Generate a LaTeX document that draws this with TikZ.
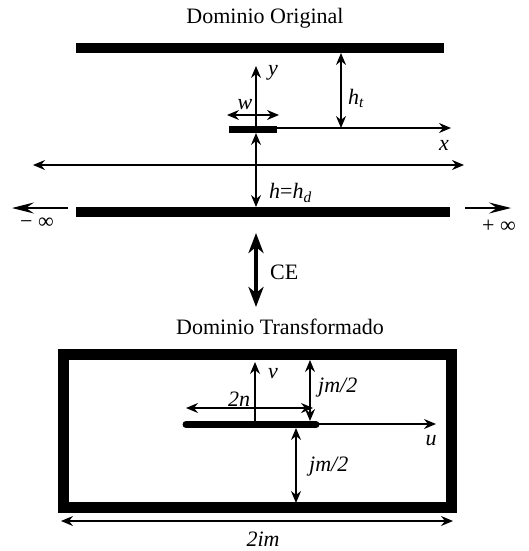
\documentclass[tikz,border=0pt]{standalone}
\usepackage{fontspec}
\setmainfont{Liberation Serif}
\usetikzlibrary{arrows.meta}
\begin{document}
\begin{tikzpicture}[x=1pt,y=-1pt,
  thin line/.style={line width=1.2pt},
  tip/.tip={Stealth[length=12pt,width=10pt,inset=4pt]},
  longtip/.tip={Stealth[length=22pt,width=11pt,inset=8pt]},
  bigtip/.tip={Stealth[length=20pt,width=15pt,inset=6pt]},
  arr/.style={thin line,-tip},
  darr/.style={thin line,tip-tip},
  plate/.style={line width=10pt},
  lbl/.style={font=\fontsize{22}{24}\selectfont\itshape, inner sep=0pt},
  title/.style={font=\fontsize{22}{24}\selectfont, inner sep=0pt}]
\useasboundingbox (0,0) rectangle (528,551);
% ---------- original domain ----------
\node[title] (t1) at (265,18) {Dominio Original};
\coordinate (tpl) at (76,48); \coordinate (tpr) at (444,48);
\draw[plate] (tpl) -- (tpr);
\coordinate (bpl) at (76,212); \coordinate (bpr) at (450,212);
\draw[plate] (bpl) -- (bpr);
% strip
\coordinate (sl) at (229,129.5); \coordinate (sr) at (277,129.5);
\draw[line width=7pt] (sl) -- (sr);
% axes
\coordinate (o) at (256,128); \coordinate (ytop) at (256,66);
\draw[arr] (o) -- (ytop);
\node[lbl] (ylbl) at (273,73) {y};
\coordinate (xs) at (277,128); \coordinate (xe) at (451,128);
\draw[arr] (xs) -- (xe);
\node[lbl] (xlbl) at (444,145) {x};
% w
\coordinate (wl) at (227,115); \coordinate (wr) at (279,115);
\draw[darr] (wl) -- (wr);
\node[lbl] (wlbl) at (245,105) {w};
% h_t
\coordinate (hta) at (341,53); \coordinate (htb) at (341,128);
\draw[darr] (hta) -- (htb);
\node[lbl,anchor=west] (htlbl) at (348,98) {h\textsubscript{t}};
% h = h_d
\coordinate (hda) at (256,133); \coordinate (hdb) at (256,207);
\draw[darr] (hda) -- (hdb);
\node[lbl,anchor=west] (hdlbl) at (269,193) {h\upshape{=}\itshape h\textsubscript{d}};
% long line
\coordinate (ll) at (33,165); \coordinate (lr) at (464,165);
\draw[darr] (ll) -- (lr);
% infinity arrows
\coordinate (mia) at (68,208); \coordinate (mib) at (12,208);
\draw[thin line,-longtip] (mia) -- (mib);
\node[title] (milbl) at (37,223) {− ∞};
\coordinate (pia) at (465,208); \coordinate (pib) at (511,208);
\draw[thin line,-longtip] (pia) -- (pib);
\node[title] (pilbl) at (499,226) {+ ∞};
% CE
\coordinate (cea) at (256,233); \coordinate (ceb) at (256,307);
\draw[line width=4pt,bigtip-bigtip] (cea) -- (ceb);
\node[title,anchor=west] (celbl) at (270,272) {CE};
% ---------- transformed domain ----------
\node[title] (t2) at (280,327) {Dominio Transformado};
\node[draw,line width=11pt,minimum width=388pt,minimum height=153pt,inner sep=0pt] (box) at (257.75,431.25) {};
% strip
\coordinate (s2l) at (186,424.5); \coordinate (s2r) at (316,424.5);
\draw[line width=7pt,line cap=round] (s2l) -- (s2r);
% v axis
\coordinate (vo) at (255,424); \coordinate (vtop) at (255,362);
\draw[arr] (vo) -- (vtop);
\node[lbl] (vlbl) at (273,374) {v};
% u axis
\coordinate (us) at (318,424); \coordinate (ue) at (436,424);
\draw[arr] (us) -- (ue);
\node[lbl] (ulbl) at (431,441) {u};
% 2n
\coordinate (nl) at (186,408); \coordinate (nr) at (313,408);
\draw[darr] (nl) -- (nr);
\node[lbl] (nlbl) at (239,399) {2n};
% jm/2 upper
\coordinate (ja) at (310,360); \coordinate (jb) at (310,421);
\draw[darr] (ja) -- (jb);
\node[lbl,anchor=west] (jlbl) at (318,388) {jm/2};
% jm/2 lower
\coordinate (jc) at (296,428); \coordinate (jd) at (296,503);
\draw[darr] (jc) -- (jd);
\node[lbl,anchor=west] (jlbl2) at (309,467) {jm/2};
% 2im
\coordinate (il) at (61,521); \coordinate (ir) at (453,521);
\draw[darr] (il) -- (ir);
\node[lbl] (ilbl) at (263,539) {2im};
\end{tikzpicture}
\end{document}
